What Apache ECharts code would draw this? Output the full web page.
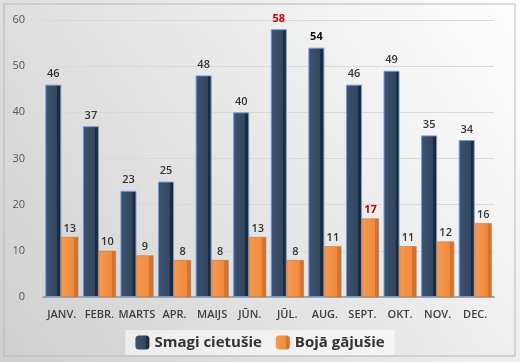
<!DOCTYPE html>
<html><head><meta charset="utf-8">
<script src="https://cdn.jsdelivr.net/npm/echarts@6/dist/echarts.min.js"></script>
<style>html,body{margin:0;padding:0;background:#fff}#c{width:520px;height:362px}</style>
</head><body><div id="c"></div>
<script>
const categories = ['JANV.','FEBR.','MARTS','APR.','MAIJS','JŪN.','JŪL.','AUG.','SEPT.','OKT.','NOV.','DEC.'];
const injured = [46,37,23,25,48,40,58,54,46,49,35,34];
const killed = [13,10,9,8,8,13,8,11,17,11,12,16];
const yTicks = [0,10,20,30,40,50,60];
const seriesNames = ['Smagi cietušie','Bojā gājušie'];

const highlightRed = {injured: [6], killed: [8]};
const highlightBold = {injured: [6,7], killed: [8]};

function mkData(arr, key){
  return arr.map((v,i)=>{
    const o = {value:v};
    if (highlightBold[key].includes(i)) {
      o.label = {fontWeight:'bold', color: highlightRed[key].includes(i) ? '#c00000' : '#111'};
    }
    return o;
  });
}

const chart = echarts.init(document.getElementById('c'));
chart.setOption({
  backgroundColor: {type:'linear', x:0, y:1, x2:1, y2:0, colorStops:[{offset:0,color:'#cfcfcf'},{offset:0.55,color:'#e9e9e9'},{offset:1,color:'#ffffff'}]},
  animation:false,
  graphic:[{type:'rect', shape:{x:4,y:4,width:511,height:352}, style:{fill:'none', stroke:'#b8b8b8', lineWidth:1}}],
  grid:{left:43, right:26, top:20, bottom:65},
  legend:{bottom:7, left:'center', itemWidth:14, itemHeight:14, itemGap:14,
    backgroundColor:'rgba(255,255,255,0.55)', padding:[5,10],
    textStyle:{fontFamily:'Open Sans', fontSize:15, fontWeight:'bold', color:'#333'},
    data:seriesNames.map(n=>({name:n, itemStyle:{borderWidth:0}}))},
  xAxis:{type:'category', data:categories,
    axisLine:{lineStyle:{color:'#a6a6a6', width:2}}, axisTick:{show:false},
    axisLabel:{interval:0, fontFamily:'Open Sans', fontSize:11, fontWeight:600, color:'#404040', margin:12}},
  yAxis:{type:'value', min:0, max:60, interval:10,
    axisLine:{show:false}, axisTick:{show:false},
    splitLine:{lineStyle:{color:'#d9d9d9'}},
    axisLabel:{fontFamily:'Open Sans', fontSize:11, color:'#555', margin:18,
      formatter:v=>yTicks.includes(v)?String(v):''}},
  series:[
    {name:seriesNames[0], type:'bar', data:mkData(injured,'injured'), barWidth:16, barGap:'0%',
      itemStyle:{color:{type:'linear',x:0,y:0,x2:1,y2:0,colorStops:[{offset:0,color:'#3d5273'},{offset:0.75,color:'#33465f'},{offset:0.76,color:'#1c2a3d'},{offset:1,color:'#1c2a3d'}]},
        borderColor:'#6f9bd1', borderWidth:1},
      label:{show:true, position:'top', fontFamily:'Open Sans', fontSize:11, fontWeight:600, color:'#333', distance:5}},
    {name:seriesNames[1], type:'bar', data:mkData(killed,'killed'), barWidth:17,
      itemStyle:{color:{type:'linear',x:0,y:0,x2:1,y2:0,colorStops:[{offset:0,color:'#f59a52'},{offset:0.75,color:'#f08a3c'},{offset:0.76,color:'#d8722a'},{offset:1,color:'#d8722a'}]},
        borderColor:'#c8692a', borderWidth:0.5},
      label:{show:true, position:'top', fontFamily:'Open Sans', fontSize:11, fontWeight:600, color:'#333', distance:3}}
  ]
});
</script></body></html>
